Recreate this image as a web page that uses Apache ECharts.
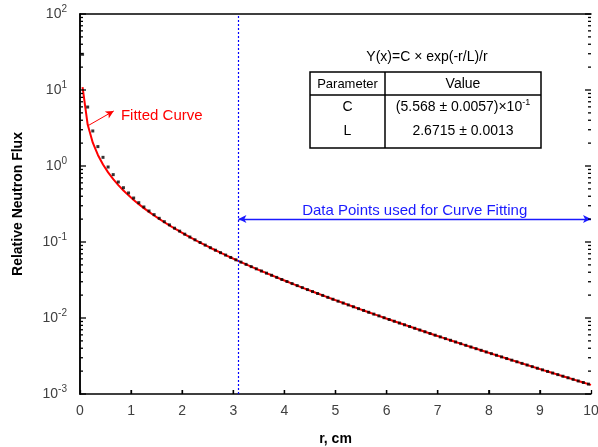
<!DOCTYPE html>
<html>
<head>
<meta charset="utf-8">
<script src="https://cdn.jsdelivr.net/npm/echarts@6/dist/echarts.min.js"></script>
<style>html,body{margin:0;padding:0;background:#fff}#c{width:598px;height:447px}</style>
</head>
<body>
<div id="c"></div>
<script>
const radius = [0.05,0.15,0.25,0.35,0.45,0.55,0.65,0.75,0.85,0.95,
1.05,1.15,1.25,1.35,1.45,1.55,1.65,1.75,1.85,1.95,
2.05,2.15,2.25,2.35,2.45,2.55,2.65,2.75,2.85,2.95,
3.05,3.15,3.25,3.35,3.45,3.55,3.65,3.75,3.85,3.95,
4.05,4.15,4.25,4.35,4.45,4.55,4.65,4.75,4.85,4.95,
5.05,5.15,5.25,5.35,5.45,5.55,5.65,5.75,5.85,5.95,
6.05,6.15,6.25,6.35,6.45,6.55,6.65,6.75,6.85,6.95,
7.05,7.15,7.25,7.35,7.45,7.55,7.65,7.75,7.85,7.95,
8.05,8.15,8.25,8.35,8.45,8.55,8.65,8.75,8.85,8.95,
9.05,9.15,9.25,9.35,9.45,9.55,9.65,9.75,9.85,9.95];
const measured = [29.5,5.97,2.89,1.80,1.30,0.97,0.77,0.616,0.518,0.442,
0.379,0.329,0.289,0.256,0.229,0.205,0.185,0.168,0.152,0.139,
0.1268,0.1163,0.1069,0.0985,0.0910,0.0842,0.0780,0.0724,0.0673,0.0626,
0.05829,0.05436,0.05076,0.04743,0.04436,0.04153,0.03891,0.03648,0.03423,0.03213,
0.03019,0.02838,0.02669,0.02512,0.02366,0.02229,0.02101,0.01981,0.01869,0.01764,
0.01665,0.01573,0.01486,0.01405,0.01328,0.01257,0.01189,0.01125,0.01066,0.01009,
0.009560,0.009059,0.008586,0.008141,0.007720,0.007323,0.006948,0.006593,0.006258,0.005942,
0.005642,0.005359,0.005091,0.004837,0.004597,0.004369,0.004154,0.003949,0.003756,0.003572,
0.003398,0.003233,0.003077,0.002928,0.002787,0.002653,0.002526,0.002406,0.002291,0.002182,
0.002079,0.001981,0.001887,0.001799,0.001714,0.001634,0.001558,0.001485,0.001416,0.001350];
const fitRadius = radius.concat([10]);
const fitted = [10.93,3.509,2.028,1.396,1.046,0.824,0.6716,0.5607,0.4765,0.4107,
0.3579,0.3148,0.2790,0.2488,0.2232,0.2011,0.1820,0.1653,0.1506,0.1376,
0.1261,0.1158,0.1066,0.09831,0.09083,0.08407,0.07792,0.07233,0.06723,0.06256,
0.05829,0.05436,0.05076,0.04743,0.04436,0.04153,0.03891,0.03648,0.03423,0.03213,
0.03019,0.02838,0.02669,0.02512,0.02366,0.02229,0.02101,0.01981,0.01869,0.01764,
0.01665,0.01573,0.01486,0.01405,0.01328,0.01257,0.01189,0.01125,0.01066,0.01009,
0.009560,0.009059,0.008586,0.008141,0.007720,0.007323,0.006948,0.006593,0.006258,0.005942,
0.005642,0.005359,0.005091,0.004837,0.004597,0.004369,0.004154,0.003949,0.003756,0.003572,
0.003398,0.003233,0.003077,0.002928,0.002787,0.002653,0.002526,0.002406,0.002291,0.002182,
0.002079,0.001981,0.001887,0.001799,0.001714,0.001634,0.001558,0.001485,0.001416,0.001350,
0.001318];
const xTicks = [1,2,3,4,5,6,7,8,9];
const yMajor = [0.001,0.01,0.1,1,10,100];
const yMinor = [0.002,0.003,0.004,0.005,0.006,0.007,0.008,0.009,
0.02,0.03,0.04,0.05,0.06,0.07,0.08,0.09,
0.2,0.3,0.4,0.5,0.6,0.7,0.8,0.9,
2,3,4,5,6,7,8,9,20,30,40,50,60,70,80,90];
const fitStart = 3.1;
const fitEnd = 10;
const arrowLevel = 0.2;

const chart = echarts.init(document.getElementById('c'), null, {renderer:'canvas'});
const tickFont = 'Liberation Sans';
const X_MIN = 0, X_MAX = 10, Y_MIN = 0.001, Y_MAX = 100;

function yTickItem(params, api){
  const v = api.value(1), len = api.value(2);
  const pL = api.coord([X_MIN, v]), pR = api.coord([X_MAX, v]);
  return {type:'group', children:[
    {type:'line', shape:{x1:pL[0], y1:pL[1], x2:pL[0]+len, y2:pL[1]}, style:{stroke:'#000', lineWidth:1.3}},
    {type:'line', shape:{x1:pR[0]-len, y1:pR[1], x2:pR[0], y2:pR[1]}, style:{stroke:'#000', lineWidth:1.3}}
  ]};
}
function xTickItem(params, api){
  const v = api.value(0), len = api.value(2);
  const p = api.coord([v, Y_MIN]);
  return {type:'line', shape:{x1:p[0], y1:p[1], x2:p[0], y2:p[1]-len}, style:{stroke:'#000', lineWidth:1.3}};
}

const option = {
  animation:false,
  grid:{left:80, right:7, top:14, bottom:53, containLabel:false, outerBoundsMode:'none'},
  xAxis:[{
    type:'value', min:X_MIN, max:X_MAX, interval:1, position:'bottom',
    axisLine:{show:true, onZero:false, lineStyle:{color:'#000', width:1.5}},
    axisTick:{show:true, inside:true, length:4, lineStyle:{color:'#000', width:1.3}},
    axisLabel:{fontSize:14, color:'#404040', margin:10, fontFamily:tickFont},
    splitLine:{show:false},
    name:'r, cm', nameLocation:'middle', nameGap:38,
    nameTextStyle:{fontSize:14, fontWeight:'bold', color:'#000', fontFamily:'Liberation Sans'}
  },{
    type:'value', min:X_MIN, max:X_MAX, interval:1, position:'top',
    axisLine:{show:true, onZero:false, lineStyle:{color:'#000', width:1.5}},
    axisTick:{show:false}, axisLabel:{show:false}, splitLine:{show:false}
  }],
  yAxis:[{
    type:'log', min:Y_MIN, max:Y_MAX, position:'left',
    axisLine:{show:true, lineStyle:{color:'#000', width:1.5}},
    axisTick:{show:false},
    axisLabel:{
      show:true, margin:13,
      formatter: v => '{b|10}{s|' + Math.round(Math.log10(v)) + '}',
      rich:{ b:{fontSize:14, color:'#404040', fontFamily:tickFont},
             s:{fontSize:10, color:'#404040', fontFamily:tickFont, padding:[0,0,9,0]} }
    },
    splitLine:{show:false},
    name:'Relative Neutron Flux', nameLocation:'middle', nameGap:55,
    nameTextStyle:{fontSize:14, fontWeight:'bold', color:'#000', fontFamily:'Liberation Sans'}
  },{
    type:'log', min:Y_MIN, max:Y_MAX, position:'right',
    axisLine:{show:true, lineStyle:{color:'#000', width:1.5}},
    axisTick:{show:false}, axisLabel:{show:false}, splitLine:{show:false}
  }],
  series:[{
    type:'custom', coordinateSystem:'cartesian2d', xAxisIndex:0, yAxisIndex:0, silent:true, clip:false,
    encode:{x:0, y:1},
    data: yMajor.map(v=>[X_MIN, v, 6]).concat(yMinor.map(v=>[X_MIN, v, 3])),
    renderItem: yTickItem, z:5
  },{
    type:'custom', coordinateSystem:'cartesian2d', xAxisIndex:0, yAxisIndex:0, silent:true, clip:false,
    encode:{x:0, y:1},
    data: xTicks.map(v=>[v, Y_MIN, 4]),
    renderItem: xTickItem, z:5
  },{
    type:'line', xAxisIndex:0, yAxisIndex:0,
    data: fitRadius.map((r,i)=>[r, fitted[i]]),
    showSymbol:false, symbol:'none',
    lineStyle:{color:'#ff0000', width:2},
    z:2,
    markLine:{
      silent:true, animation:false, symbol:['none','arrow'], symbolSize:[6,8],
      lineStyle:{color:'#ff0000', type:'solid', width:1, curveness:0.4},
      label:{show:false},
      data:[[{coord:[0.16, 3.4]},{coord:[0.66, 5.3]}]]
    },
    markPoint:{
      silent:true, symbol:'circle', symbolSize:0,
      data:[{coord:[0.8, 4.6], label:{show:true, position:'right', distance:0, formatter:'Fitted Curve', color:'#ff0000', fontSize:15, fontFamily:'Liberation Sans'}}]
    }
  },{
    type:'line', xAxisIndex:0, yAxisIndex:0, data:[], symbol:'none',
    markLine:{
      silent:true, animation:false, symbol:['none','none'],
      lineStyle:{color:'#0000ff', type:[2,2], width:1.2},
      label:{show:false},
      data:[{xAxis:fitStart}]
    }
  },{
    type:'line', xAxisIndex:0, yAxisIndex:0, data:[], symbol:'none',
    markLine:{
      silent:true, animation:false, symbol:['arrow','arrow'], symbolSize:[6,8],
      lineStyle:{color:'#1a1aff', type:'solid', width:1.3},
      label:{show:true, position:'middle', formatter:'Data Points used for Curve Fitting', color:'#1a1aff', fontSize:15, fontFamily:'Liberation Sans', distance:1},
      data:[[{coord:[fitStart, arrowLevel]},{coord:[fitEnd, arrowLevel]}]]
    }
  },{
    type:'scatter', xAxisIndex:0, yAxisIndex:0,
    data: radius.map((r,i)=>[r, measured[i]]),
    symbol:'rect', symbolSize:3,
    itemStyle:{color:'#000'}, z:3
  }],
  graphic:[
    {type:'text', z:12, style:{text:'Y(x)=C × exp(-r/L)/r', x:427, y:57, align:'center', verticalAlign:'middle', font:'14px Liberation Sans', fill:'#000'}},
    {type:'rect', shape:{x:310, y:72, width:231, height:76}, style:{fill:'#fff', stroke:'#000', lineWidth:1.5}, z:10},
    {type:'line', shape:{x1:310, y1:95, x2:541, y2:95}, style:{stroke:'#000', lineWidth:1.5}, z:11},
    {type:'line', shape:{x1:385, y1:72, x2:385, y2:148}, style:{stroke:'#000', lineWidth:1.5}, z:11},
    {type:'text', z:12, style:{text:'Parameter', x:347.5, y:84, align:'center', verticalAlign:'middle', font:'13px Liberation Sans', fill:'#000'}},
    {type:'text', z:12, style:{text:'Value', x:463, y:84, align:'center', verticalAlign:'middle', font:'14px Liberation Sans', fill:'#000'}},
    {type:'text', z:12, style:{text:'C', x:347.5, y:107, align:'center', verticalAlign:'middle', font:'14px Liberation Sans', fill:'#000'}},
    {type:'text', z:12, style:{text:'L', x:347.5, y:131, align:'center', verticalAlign:'middle', font:'14px Liberation Sans', fill:'#000'}},
    {type:'text', z:12, style:{text:'{m|(5.568 ± 0.0057)×10}{s|-1}', x:463, y:107, align:'center', verticalAlign:'middle',
      rich:{m:{fontSize:14, fontFamily:'Liberation Sans', fill:'#000'}, s:{fontSize:9, fontFamily:'Liberation Sans', fill:'#000', padding:[0,0,8,0]}}}},
    {type:'text', z:12, style:{text:'2.6715 ± 0.0013', x:463, y:131, align:'center', verticalAlign:'middle', font:'14px Liberation Sans', fill:'#000'}}
  ]
};
chart.setOption(option);
</script>
</body>
</html>
